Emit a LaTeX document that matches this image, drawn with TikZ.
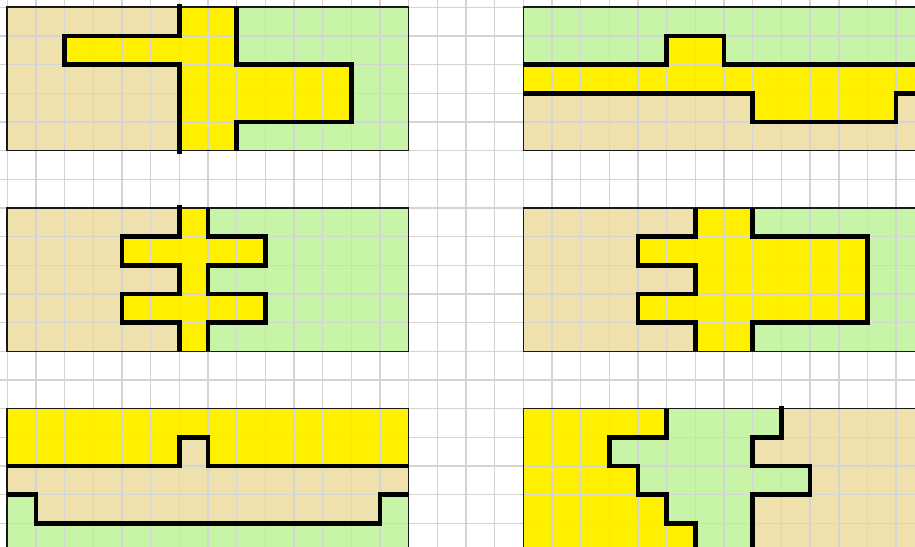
\documentclass[tikz,border=0pt]{standalone}
\definecolor{tanc}{RGB}{238,225,174}
\definecolor{greenc}{RGB}{199,244,166}
\definecolor{yellowc}{RGB}{255,240,0}
\definecolor{gridc}{RGB}{212,212,212}
\tikzset{
  gridline/.style={draw=gridc, line width=0.75pt},
  frame/.style={draw=black!90, line width=0.8pt},
  bnd/.style={draw=black, line width=2.3pt, line join=miter},
}
\begin{document}
\begin{tikzpicture}[x=0.5cm,y=-0.5cm]
\useasboundingbox (-0.2546,-0.2546) rectangle (31.66,18.79);
\clip (-0.2546,-0.2546) rectangle (31.66,18.79);
\fill[white] (-1,-1) rectangle (33,20);
% ---------- Panel A ----------
\fill[tanc] (0,0) rectangle (14,5);
\fill[yellowc] (6,0)--(6,1)--(2,1)--(2,2)--(6,2)--(6,5)--(14,5)--(14,0)--cycle;
\fill[greenc] (8,0)--(8,2)--(12,2)--(12,4)--(8,4)--(8,5)--(14,5)--(14,0)--cycle;
% ---------- Panel B ----------
\fill[greenc] (18,0) rectangle (33,5);
\fill[yellowc] (18,2)--(23,2)--(23,1)--(25,1)--(25,2)--(33,2)--(33,5)--(18,5)--cycle;
\fill[tanc] (18,3)--(26,3)--(26,4)--(31,4)--(31,3)--(33,3)--(33,5)--(18,5)--cycle;
% ---------- Panel C ----------
\fill[tanc] (0,7) rectangle (14,12);
\fill[yellowc] (6,7)--(6,8)--(4,8)--(4,9)--(6,9)--(6,10)--(4,10)--(4,11)--(6,11)--(6,12)--(14,12)--(14,7)--cycle;
\fill[greenc] (7,7)--(7,8)--(9,8)--(9,9)--(7,9)--(7,10)--(9,10)--(9,11)--(7,11)--(7,12)--(14,12)--(14,7)--cycle;
% ---------- Panel D ----------
\fill[tanc] (18,7) rectangle (33,12);
\fill[yellowc] (24,7)--(24,8)--(22,8)--(22,9)--(24,9)--(24,10)--(22,10)--(22,11)--(24,11)--(24,12)--(33,12)--(33,7)--cycle;
\fill[greenc] (26,7)--(26,8)--(30,8)--(30,11)--(26,11)--(26,12)--(33,12)--(33,7)--cycle;
% ---------- Panel E ----------
\fill[yellowc] (0,14) rectangle (14,20);
\fill[tanc] (0,16)--(6,16)--(6,15)--(7,15)--(7,16)--(14,16)--(14,20)--(0,20)--cycle;
\fill[greenc] (0,17)--(1,17)--(1,18)--(13,18)--(13,17)--(14,17)--(14,20)--(0,20)--cycle;
% ---------- Panel F ----------
\fill[yellowc] (18,14) rectangle (33,20);
\fill[greenc] (23,14)--(23,15)--(21,15)--(21,16)--(22,16)--(22,17)--(23,17)--(23,18)--(24,18)--(24,20)--(33,20)--(33,14)--cycle;
\fill[tanc] (27,14)--(27,15)--(26,15)--(26,16)--(28,16)--(28,17)--(26,17)--(26,20)--(33,20)--(33,14)--cycle;
% ---------- grid ----------
\foreach \i in {-1,...,33} \draw[gridline] (\i,-1) -- (\i,20);
\foreach \j in {-1,...,20} \draw[gridline] (-1,\j) -- (33,\j);
% ---------- frames ----------
\draw[frame] (0,0) rectangle (14,5);
\draw[frame] (18,0) rectangle (33,5);
\draw[frame] (0,7) rectangle (14,12);
\draw[frame] (18,7) rectangle (33,12);
\draw[frame] (0,14) rectangle (14,20);
\draw[frame] (18,14) rectangle (33,20);
% ---------- boundaries ----------
\draw[bnd] (6,-0.1)--(6,1)--(2,1)--(2,2)--(6,2)--(6,5.1);
\draw[bnd] (8,0)--(8,2)--(12,2)--(12,4)--(8,4)--(8,5);
\draw[bnd] (18,2)--(23,2)--(23,1)--(25,1)--(25,2)--(33,2);
\draw[bnd] (18,3)--(26,3)--(26,4)--(31,4)--(31,3)--(33,3);
\draw[bnd] (6,6.9)--(6,8)--(4,8)--(4,9)--(6,9)--(6,10)--(4,10)--(4,11)--(6,11)--(6,12);
\draw[bnd] (7,7)--(7,8)--(9,8)--(9,9)--(7,9)--(7,10)--(9,10)--(9,11)--(7,11)--(7,12);
\draw[bnd] (24,7)--(24,8)--(22,8)--(22,9)--(24,9)--(24,10)--(22,10)--(22,11)--(24,11)--(24,12);
\draw[bnd] (26,7)--(26,8)--(30,8)--(30,11)--(26,11)--(26,12);
\draw[bnd] (0,16)--(6,16)--(6,15)--(7,15)--(7,16)--(14,16);
\draw[bnd] (0,17)--(1,17)--(1,18)--(13,18)--(13,17)--(14,17);
\draw[bnd] (23,14)--(23,15)--(21,15)--(21,16)--(22,16)--(22,17)--(23,17)--(23,18)--(24,18)--(24,20);
\draw[bnd] (27,13.9)--(27,15)--(26,15)--(26,16)--(28,16)--(28,17)--(26,17)--(26,20);
\end{tikzpicture}
\end{document}
